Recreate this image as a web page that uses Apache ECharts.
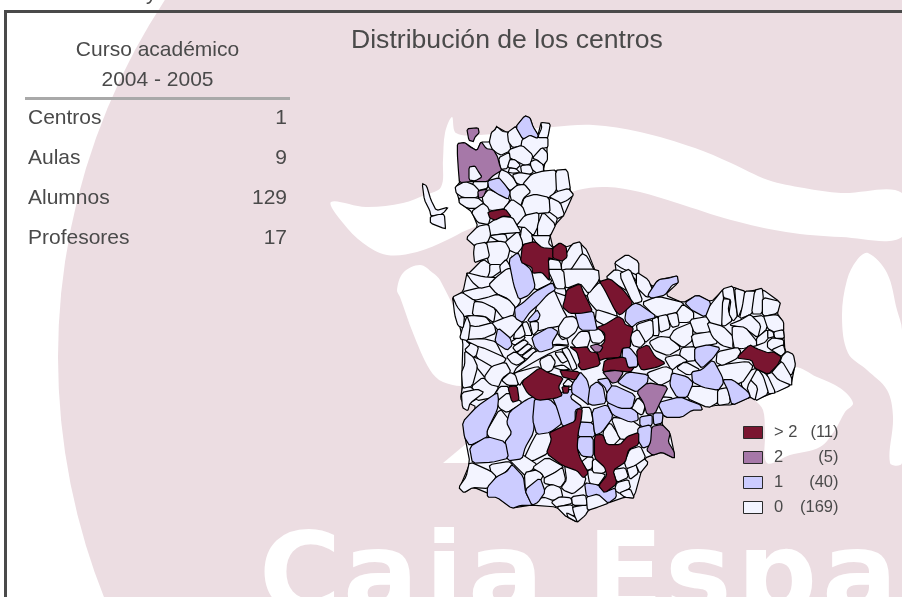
<!DOCTYPE html>
<html>
<head>
<meta charset="utf-8">
<style>
  html, body { margin: 0; padding: 0; background: #fff; overflow: hidden; }
  #chart { width: 902px; height: 597px; }
</style>
</head>
<body>
<div id="chart"></div>
<script src="https://cdn.jsdelivr.net/npm/echarts@6/dist/echarts.min.js"></script>
<script>
// cuadro de la izquierda
var cursoTitulo = ['Curso académico', '2004 - 2005'];
var filas = ['Centros', 'Aulas', 'Alumnos', 'Profesores'];
var filasValor = ['1', '9', '129', '17'];

// leyenda
var clases = ['> 2', '2', '1', '0'];
var clasesConteo = ['(11)', '(5)', '(40)', '(169)'];
var clasesValor = [3, 2, 1, 0];
var clasesColor = ['#7a1530', '#a678a8', '#ccccff', '#f3f4ff'];

// contorno de la provincia, va debajo de todo
var contornoBase = '525,116 530,118 533,127 538,135 541,123 550,124 547,138 547,153 543,172 555,171 567,170 570,190 573,195 564,215 555,225 550,235 553,248 560,243 566,247 572,245 580,243 587,250 600,283 610,279 616,270 615,263 627,255 638,262 638,275 653,287 658,280 677,276 678,283 665,295 683,303 697,295 711,302 723,290 733,287 745,292 762,289 780,302 777,313 783,322 785,352 793,355 795,365 791,385 775,392 755,400 750,397 732,405 718,405 708,407 688,398 682,417 665,417 663,413 662,425 670,433 674,452 674,458 662,452 653,455 645,458 634,498 625,497 608,503 588,510 577,522 567,517 557,507 532,505 512,508 497,497 473,487 465,492 460,487 470,463 465,437 463,422 477,407 462,400 462,372 463,340 453,298 463,292 467,273 468,275 483,260 474,245 467,238 478,227 472,212 460,203 457,193 456,187 460,182 458,144 465,143 477,151 481,142 490,142 492,133 497,127 508,133 516,127';

// municipios sin centros (0), calcados de la imagen
var municipios0 = [
  '423,185 427,187 431,200 436,210 447,207 443,212 438,215 431,215 430,210 425,200',
  '431,217 438,215 444,215 445,228 444,228 431,223',
  '490,142 492,133 496,130 497,127 502,132 508,133 509,142 510,150 501,154 497,152 493,149',
  '508,133 516,127 523,140 522,145 513,147 509,142',
  '541,123 550,124 548,135 547,138 538,137 542,128',
  '523,140 530,135 538,138 547,138 547,147 542,148 533,157 522,146',
  '510,150 522,146 532,155 530,163 525,165 515,160 509,157',
  '533,158 542,148 547,153 547,160 543,165 538,160',
  '531,162 536,160 543,165 543,172 537,173 531,168',
  '499,158 509,153 510,160 507,168 501,169',
  '510,160 515,160 520,165 516,169 508,167',
  '521,166 530,165 533,172 528,175 522,173',
  '510,168 516,169 520,173 513,173 508,172',
  '501,170 508,173 513,178 517,185 510,190 505,185 499,178',
  '513,175 520,173 532,175 530,180 523,185 517,183',
  '532,175 543,172 555,171 556,188 550,197 535,195 525,197 528,187 524,184',
  '556,171 567,170 570,190 557,192',
  '557,192 568,189 573,195 567,200 560,203 550,197',
  '550,198 560,203 564,215 557,218 549,212',
  '543,213 549,212 557,218 555,225 548,222',
  '525,198 535,195 548,198 549,212 538,213 525,215 522,207',
  '517,186 524,185 530,192 523,198 520,207 512,200 510,192',
  '483,197 489,190 498,194 509,199 505,208 490,210 484,203',
  '475,180 482,177 488,180 487,188 478,190 473,185',
  '456,187 465,182 473,185 478,190 477,197 463,197 457,193',
  '460,198 477,198 483,203 477,208 468,208 460,203',
  '472,212 483,204 488,208 490,217 488,224 478,222',
  '505,208 512,200 522,207 525,215 517,225 511,217 505,210',
  '525,216 538,213 538,225 533,235 525,228 522,227 517,226',
  '543,213 555,225 550,235 542,237 538,235 538,225',
  '488,225 500,217 512,218 517,227 520,232 505,233 490,235',
  '467,238 478,227 488,225 490,235 487,242 475,245',
  '490,236 505,234 508,243 500,242',
  '522,228 525,228 532,235 532,243 525,245 520,242',
  '505,243 518,232 522,242 522,247 517,253 510,250',
  '532,236 538,236 550,236 548,243 553,248 543,250 537,243',
  '487,243 500,242 505,243 509,250 507,258 500,265 490,265 487,253',
  '475,245 486,243 489,257 480,260 475,262 474,253',
  '468,275 483,260 490,265 490,272 487,278 474,277',
  '490,265 500,265 502,270 492,277 487,278 490,272',
  '500,266 506,260 512,270 505,276 501,272',
  '505,276 512,270 512,260 515,275 515,290 512,297 510,284',
  '549,260 560,262 563,280 566,295 552,290 549,275',
  '562,262 572,245 580,243 582,255 572,268 563,280',
  '582,255 587,258 598,280 600,290 590,296 575,290 563,280 572,270',
  '588,295 600,283 605,290 617,315 610,314 597,310 590,302',
  '562,270 597,270 598,280 588,293 580,283 567,288 563,278',
  '535,270 542,270 552,282 535,290 532,273',
  '548,270 563,270 565,288 556,288 552,278',
  '453,298 463,293 475,300 473,315 468,315 464,316 457,307',
  '463,292 480,288 490,285 497,295 488,298 475,300',
  '467,273 483,277 497,278 492,285 480,288 473,282',
  '490,285 497,278 507,270 515,270 515,287 520,300 515,307 508,298 497,293',
  '475,301 488,298 497,295 508,300 514,307 512,315 503,318 495,308 483,303',
  '475,302 483,303 495,309 493,322 485,316 473,315',
  '464,317 473,316 485,317 490,323 477,327 470,325',
  '470,326 477,327 493,323 495,333 483,338 468,340',
  '493,323 503,319 512,316 515,318 522,323 515,332 510,337 502,333 497,328',
  '468,340 483,339 495,342 498,348 503,358 485,349 478,347 468,342',
  '478,347 485,349 505,358 503,362 492,367 480,360 476,355',
  '467,317 470,325 468,340 460,338 463,327',
  '453,298 457,307 464,316 463,327 458,325 455,315',
  '473,357 480,360 492,367 490,370 485,377 477,367',
  '468,342 478,347 476,355 473,357 465,350 470,345',
  '485,377 492,367 505,363 510,372 502,378 498,387 490,385',
  '511,342 522,335 525,338 515,345',
  '513,347 524,340 528,343 517,352',
  '517,353 528,344 532,347 522,355',
  '522,356 533,348 536,351 527,359',
  '507,357 515,352 525,360 517,365 512,363',
  '527,360 535,352 555,346 568,347 550,353 537,360 515,373 518,367',
  '538,305 553,290 562,310 566,317 560,325 550,327 538,330 535,318',
  '523,323 527,322 532,335 525,335 522,330',
  '530,322 538,322 538,330 533,335',
  '515,333 522,325 525,335 520,338 513,338',
  '550,345 557,333 562,340 567,338 568,345 558,344',
  '559,327 565,318 573,317 579,323 575,332 567,338 560,335',
  '572,342 580,332 588,332 590,338 587,347 577,348',
  '589,330 600,329 605,338 600,343 592,342',
  '597,310 610,314 618,317 605,325 596,320',
  '540,360 550,355 555,362 552,370 543,373',
  '555,353 562,352 568,360 562,363',
  '562,350 568,348 577,367 572,370 568,360',
  '553,367 563,365 570,370 562,370',
  '515,373 537,367 540,370 523,380 520,385 515,378',
  '510,373 515,375 518,385 508,385 502,380',
  '483,378 490,385 498,387 492,397 477,400 472,387',
  '500,387 508,387 510,397 502,400 493,398',
  '463,387 472,388 477,398 465,405 461,398',
  '465,352 473,358 477,367 472,385 463,387 462,372 465,365',
  '462,393 477,390 483,393 470,403 468,410 463,407',
  '497,402 508,393 522,403 507,412 500,408',
  '487,432 500,410 508,420 512,432 505,443 492,440',
  '537,434 550,432 552,440 547,453 533,460 525,458 532,443',
  '510,460 522,455 537,465 525,475 520,470',
  '490,465 508,462 512,465 505,472 497,477 492,473',
  '470,463 490,472 495,477 488,487 487,488 473,487 465,492 460,487 467,477',
  '525,473 538,470 543,477 526,492',
  '533,468 547,458 563,467 555,472 545,478 542,473',
  '545,478 555,473 562,468 565,480 560,487 553,485 545,483',
  '547,487 552,485 560,488 562,497 553,500 545,497 540,498',
  '565,465 577,470 585,478 583,485 573,493 565,490 562,487 567,480',
  '552,502 560,497 570,498 572,503 557,507',
  '557,507 572,505 575,515 567,517',
  '575,507 587,505 588,510 585,515 577,522 573,508',
  '567,513 575,517 577,522 568,517',
  '572,497 585,495 587,505 573,505',
  '587,497 598,493 608,503 597,507 588,510',
  '588,472 590,470 600,473 605,475 598,485 590,483',
  '582,462 588,457 593,458 592,468 587,470',
  '593,460 605,458 609,467 603,473 593,472',
  '613,470 625,468 628,477 617,482',
  '617,483 628,480 630,488 620,493 615,490',
  '620,493 630,489 634,498 625,497',
  '627,468 636,465 638,473 630,479',
  '635,462 642,457 648,463 640,473',
  '625,462 630,450 640,447 645,458 635,465 627,468',
  '582,408 590,408 593,422 578,422',
  '603,433 610,423 620,438 613,445 607,445',
  '612,418 630,420 640,427 638,433 627,439 620,438',
  '632,403 642,397 645,407 643,413 637,413',
  '663,405 657,402 663,397 672,398 670,403',
  '563,385 568,379 573,383 570,387',
  '632,408 638,398 645,405 642,415 633,410',
  '615,263 627,255 638,262 638,275 622,268',
  '607,278 616,270 633,277 640,290 635,295 618,285',
  '638,275 653,287 646,295 638,283',
  '637,273 648,280 653,292 647,297 637,287',
  '620,275 630,270 637,287 642,300 633,303',
  '643,303 658,297 683,303 677,312 657,317',
  '677,313 683,305 693,312 693,320 688,322 678,322',
  '667,315 677,313 679,325 672,327',
  '658,317 667,315 670,328 660,332',
  '652,320 658,317 659,335 653,335',
  '637,325 652,320 653,335 645,342 638,332',
  '630,335 638,330 645,342 640,347 633,345',
  '650,342 660,337 670,338 680,348 668,355 655,350',
  '670,338 675,330 692,323 692,340 683,347',
  '690,320 708,317 710,332 695,333',
  '692,335 712,332 717,343 708,345 695,348',
  '682,348 695,347 695,360 687,361 680,355',
  '665,358 678,355 687,361 678,365 672,370',
  '677,368 685,362 700,370 688,375',
  '648,373 665,367 672,370 670,380 660,385 650,378',
  '692,387 703,387 718,390 717,402 708,407 688,398',
  '718,390 728,388 730,403 718,405',
  '705,313 715,300 723,290 723,300 722,325 713,325',
  '723,300 730,300 728,310 732,320 725,325 722,325',
  '723,290 733,287 735,302 737,315 733,320 729,313 731,300 724,298',
  '735,289 745,292 743,305 738,317 736,302',
  '745,292 755,292 753,303 752,313 740,318 743,305',
  '755,291 762,289 763,298 762,313 752,313',
  '763,298 780,302 777,313 763,316',
  '763,317 777,315 783,322 783,330 775,332 768,328',
  '750,318 763,316 767,328 757,338',
  '730,325 742,320 750,315 760,325 757,337 745,328',
  '708,323 723,327 733,337 732,345 733,348 722,345 713,337',
  '733,327 745,328 755,340 757,345 742,348 735,348 733,337',
  '757,338 767,330 768,338 765,342 757,345',
  '768,342 773,338 783,340 783,345 772,350 768,347',
  '768,330 773,332 774,337 768,338',
  '774,332 783,330 784,338 775,338',
  '772,350 783,345 785,352 781,356 775,352',
  '782,357 787,352 793,355 795,365 791,375 780,365',
  '777,367 782,362 791,377 791,385 778,380 772,373',
  '767,375 772,373 778,380 790,385 775,392 772,388',
  '755,368 767,375 775,392 768,393 763,377',
  '748,377 758,370 763,377 768,393 755,400 758,387',
  '741,383 748,372 757,369 747,387 750,395 748,397',
  '723,365 747,362 752,367 741,383 723,380 717,367',
  '718,352 737,348 740,352 737,358 723,365 717,362'
];

// un centro (1)
var municipios1 = [
  '516,127 525,116 530,118 533,127 538,135 537,138 530,135 523,139',
  '488,181 499,178 505,185 510,192 508,199 498,194 489,188',
  '509,260 518,253 522,262 531,270 535,287 528,295 519,299 514,285',
  '515,308 523,303 535,292 552,283 555,290 547,295 538,305 530,312 523,322 516,318',
  '498,328 510,338 512,345 507,350 495,342',
  '532,337 550,327 558,332 552,342 553,348 540,352 535,347',
  '528,320 537,310 540,315 538,320 530,322',
  '575,312 593,311 596,325 597,330 580,330',
  '463,422 477,407 497,393 498,400 497,410 487,430 487,437 470,445 465,437',
  '510,412 527,400 535,397 535,413 533,433 525,447 522,458 508,460 505,442 512,433 507,423',
  '470,447 487,437 505,442 508,458 492,462 473,463',
  '535,398 550,400 557,407 562,423 550,432 537,434 533,420',
  '553,398 567,390 575,390 570,398 582,407 575,410 575,422 563,427 557,407',
  '507,472 512,465 523,477 525,492 532,505 520,505 512,508 497,497 488,497 488,487 497,477',
  '525,490 540,478 545,492 538,502 532,505',
  '585,483 598,485 605,492 615,488 616,497 608,503 598,494 587,497',
  '578,422 593,423 595,437 578,437',
  '578,437 593,437 593,457 582,456 577,448',
  '592,410 607,405 613,417 602,432 595,435',
  '607,403 620,402 637,412 638,420 630,422 613,415',
  '640,417 652,415 652,425 645,428 640,425',
  '653,413 663,413 662,423 654,425',
  '638,428 650,425 653,433 650,445 643,448 638,440',
  '658,403 680,397 692,402 700,405 702,410 692,410 682,417 665,417',
  '572,385 580,372 587,380 590,392 589,405 580,398 572,393',
  '590,387 597,382 603,387 606,403 593,405 588,403',
  '597,380 608,378 612,387 607,393 605,387',
  '607,393 613,385 635,395 632,408 620,408 607,402',
  '618,382 628,372 648,375 647,383 637,392 622,385',
  '623,347 630,348 638,358 637,367 627,367 622,360',
  '627,307 637,303 657,317 638,322 632,327 625,320',
  '648,295 658,280 670,278 677,276 678,283 672,285 665,295 652,298',
  '685,303 697,295 711,302 705,317 692,310',
  '695,348 708,345 720,348 713,358 702,368 695,360',
  '672,373 687,377 693,383 687,397 677,397 670,385',
  '702,370 713,360 722,377 723,383 718,390 703,387 693,382 692,372',
  '723,380 733,380 748,392 750,397 732,405 728,390'
];

// dos centros (2)
var municipios2 = [
  '467,129 478,128 479,133 475,137 473,142 469,140',
  '458,144 465,143 470,147 477,151 481,142 486,149 493,150 497,157 499,165 501,170 493,175 487,181 478,181 470,181 460,182 459,170 458,155',
  '478,191 488,189 483,197 478,198',
  '603,372 620,370 623,373 617,382 612,383 607,377',
  '637,392 648,383 668,387 660,402 655,413 647,414 644,403',
  '652,427 662,425 670,433 668,442 674,452 674,458 662,452 653,455 647,450 651,442'
];

// mas de dos centros (3)
var municipios3 = [
  '488,212 505,209 511,217 503,216 495,220 490,218',
  '523,245 535,242 542,248 553,249 553,259 548,258 549,275 549,280 542,272 533,273 532,267 521,262',
  '553,248 560,243 566,247 567,257 562,261 553,258',
  '600,282 610,279 623,290 633,303 620,315 615,310 605,290',
  '567,290 580,284 583,292 588,302 592,311 580,313 570,313 563,307 565,300',
  '618,317 623,320 625,325 633,328 630,338 630,347 622,348 620,357 605,358 600,360 597,350 605,342 605,333 597,328 605,325',
  '570,347 577,348 587,347 590,352 597,353 600,365 582,370 578,365 580,362 577,352',
  '605,360 625,357 628,368 635,367 630,372 612,370 603,372',
  '637,350 648,345 655,357 665,363 657,367 642,370 638,363',
  '522,382 540,368 548,373 563,378 558,387 562,395 555,398 538,400 528,393',
  '508,387 517,386 519,400 512,402',
  '560,370 580,372 575,380 567,378 563,377',
  '562,387 570,386 568,393 563,393',
  '577,410 582,410 581,420 578,433 577,448 580,458 588,472 583,477 577,470 563,465 547,453 552,440 550,433 563,427 575,422',
  '595,436 603,435 607,445 620,445 627,437 638,433 638,445 628,450 625,462 613,470 617,483 605,492 599,485 607,475 605,467 595,458',
  '737,358 750,345 757,349 768,353 773,352 781,357 777,365 768,374 755,368 752,360'
];

// estos quedan encima, metidos dentro de otro municipio
var municipiosEncima = [
  '469,167 475,166 478,171 482,177 475,181 469,180',
  '590,346 597,344 603,347 600,352 595,352'
];
var municipiosEncimaValor = [0, 2];

// marca de agua de fondo, calcada de la imagen
var aguaCuerpo = [[331,202],[366,207],[403,203],[425,195],[441,187],[443,160],[445,133],[452,117],[456,133],[480,135],[520,130],[553,127],[593,125],[640,132],[695,148],[731,163],[768,180],[804,188],[841,193],[902,193],[902,237],[841,237],[786,232],[731,220],[677,203],[640,192],[607,187],[578,190],[520,210],[467,230],[447,240],[417,252],[387,255],[363,243],[343,223]];
var aguaPata = [[397,290],[403,273],[420,265],[433,273],[440,280],[460,323],[473,370],[467,385],[443,382],[430,370],[413,333],[400,297]];
var aguaCuernoDer = [[868,253],[857,260],[847,280],[842,317],[848,353],[867,370],[887,390],[893,417],[890,463],[902,463],[902,330],[897,310],[887,273]];
var aguaCola = [[793,367],[817,377],[840,388],[853,403],[845,412],[835,430],[820,447],[790,455],[767,463],[765,430],[763,410],[755,400],[740,385]];
var aguaPico = [[443,463],[467,443],[500,440],[500,463]];
// las letras van sueltas, en el original estan mas separadas que la fuente
var aguaLetras = ['C', 'a', 'j', 'a', 'E', 's', 'p', 'a'];
var aguaLetrasX = [259, 343, 425, 468, 587, 665, 737, 822];

// engorda un poco el poligono para cerrar huecos entre vecinos y corta un poco las esquinas
function anillo(txt, engorde) {
  var pts = txt.split(' ').map(function (p) {
    return p.split(',').map(Number);
  });
  var cx = 0, cy = 0;
  pts.forEach(function (p) {
    cx += p[0] / pts.length;
    cy += p[1] / pts.length;
  });
  pts = pts.map(function (p) {
    return [cx + (p[0] - cx) * engorde, cy + (p[1] - cy) * engorde];
  });
  var ring = [];
  pts.forEach(function (p, i) {
    var q = pts[(i + 1) % pts.length];
    ring.push([p[0] * 0.86 + q[0] * 0.14, p[1] * 0.86 + q[1] * 0.14]);
    ring.push([p[0] * 0.14 + q[0] * 0.86, p[1] * 0.14 + q[1] * 0.86]);
  });
  ring.push(ring[0]);
  return ring;
}

var features = [];
var datos = [];
function addMuni(name, txt, value, engorde) {
  features.push({
    type: 'Feature',
    properties: { name: name },
    geometry: { type: 'Polygon', coordinates: [anillo(txt, engorde)] }
  });
  datos.push({ name: name, value: value });
}

addMuni('contorno', contornoBase, 0, 1);
[municipios0, municipios1, municipios2, municipios3].forEach(function (lista, c) {
  lista.forEach(function (txt, i) {
    addMuni('m' + c + '_' + i, txt, c, c === 0 ? 1.08 : 1.03);
  });
});
municipiosEncima.forEach(function (txt, i) {
  addMuni('e' + i, txt, municipiosEncimaValor[i], 1);
});

echarts.registerMap('provincia', { type: 'FeatureCollection', features: features });

var chart = echarts.init(document.getElementById('chart'));

var FUENTE = '"Liberation Sans", Arial, sans-serif';
var TINTA = '#4a4a4a';

function texto(x, y, str, size, align) {
  return {
    type: 'text',
    z: 10,
    x: x,
    y: y,
    style: {
      text: str,
      fill: TINTA,
      font: size + 'px ' + FUENTE,
      textAlign: align || 'left',
      textVerticalAlign: 'middle'
    }
  };
}

function mancha(puntos) {
  return {
    type: 'polygon',
    z: 1,
    shape: { points: puntos, smooth: 0.35 },
    style: { fill: '#ffffff' }
  };
}

var graficos = [
  { type: 'circle', z: 0, shape: { cx: 708, cy: 357, r: 650 }, style: { fill: '#ecdde2' } },
  mancha(aguaCuerpo),
  mancha(aguaPata),
  mancha(aguaCuernoDer),
  mancha(aguaCola),
  { type: 'polygon', z: 1, shape: { points: aguaPico }, style: { fill: '#ffffff' } },
  // marco
  {
    type: 'polyline',
    z: 10,
    shape: { points: [[5.5, 600], [5.5, 11.5], [905, 11.5]] },
    style: { stroke: TINTA, lineWidth: 3, fill: null }
  },
  // raya bajo el titulo del cuadro
  {
    type: 'line',
    z: 10,
    shape: { x1: 25, y1: 98.5, x2: 290, y2: 98.5 },
    style: { stroke: '#a9a9a9', lineWidth: 3 }
  },
  // lo unico que asoma del texto cortado arriba
  texto(146, -6, 'y', 21)
];

aguaLetras.forEach(function (l, i) {
  graficos.push({
    type: 'text',
    z: 1,
    x: aguaLetrasX[i],
    y: 583,
    style: {
      text: l,
      fill: '#ffffff',
      font: 'bold 112px "DejaVu Sans", sans-serif',
      textAlign: 'left',
      textVerticalAlign: 'middle'
    }
  });
});
cursoTitulo.forEach(function (t, i) {
  graficos.push(texto(157.5, 50.5 + i * 30, t, 21, 'center'));
});
filas.forEach(function (t, i) {
  graficos.push(texto(28, 118 + i * 40, t, 21));
  graficos.push(texto(287, 118 + i * 40, filasValor[i], 21, 'right'));
});
clases.forEach(function (t, i) {
  graficos.push({
    type: 'rect',
    z: 10,
    shape: { x: 743.5, y: 426.5 + i * 25, width: 19, height: 12 },
    style: { fill: clasesColor[i], stroke: '#2a2a2a', lineWidth: 1 }
  });
  graficos.push(texto(774, 432.5 + i * 25, t, 16.5));
  graficos.push(texto(838.5, 432.5 + i * 25, clasesConteo[i], 16.5, 'right'));
});

var option = {
  backgroundColor: '#ffffff',
  animation: false,
  title: {
    text: 'Distribución de los centros',
    left: 346,
    top: 22,
    textStyle: { color: TINTA, fontSize: 26.6, fontWeight: 'normal', fontFamily: FUENTE }
  },
  visualMap: {
    show: false,
    type: 'piecewise',
    pieces: clasesValor.map(function (v, i) {
      return { value: v, color: clasesColor[i] };
    })
  },
  series: [
    {
      type: 'map',
      map: 'provincia',
      projection: {
        project: function (p) { return p; },
        unproject: function (p) { return p; }
      },
      boundingCoords: [[420, 115], [800, 525]],
      left: 420,
      top: 115,
      width: 380,
      height: 410,
      roam: false,
      silent: true,
      selectedMode: false,
      label: { show: false },
      emphasis: { disabled: true },
      itemStyle: { borderColor: '#000000', borderWidth: 1.2 },
      data: datos
    }
  ],
  graphic: { elements: graficos }
};
chart.setOption(option);
</script>
</body>
</html>
